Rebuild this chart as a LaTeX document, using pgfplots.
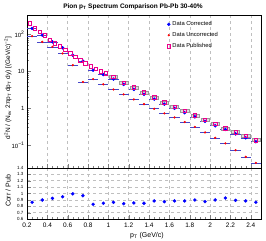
\documentclass[border=0pt]{standalone}
\usepackage{fontspec}
\setmainfont{Liberation Sans}
\usepackage{pgfplots}
\pgfplotsset{compat=1.18}
\pgfplotstableread{
x y
0.225 198
0.275 145
0.325 115
0.375 94
0.425 71
0.475 57
0.525 47
0.575 38
0.625 30.6
0.675 24.6
0.725 19.8
0.775 16.4
0.825 13.6
0.875 11.7
0.925 10.0
0.975 8.7
}\publow
\pgfplotstableread{
x y
1.05 7.0
1.15 4.83
1.25 3.62
1.35 2.65
1.45 1.94
1.55 1.43
1.65 1.08
1.75 0.85
1.85 0.635
1.95 0.474
2.05 0.37
2.15 0.283
2.25 0.224
2.35 0.178
2.45 0.136
}\pubhigh
\pgfplotstableread{
x y
0.25 143
0.35 94
0.45 62
0.55 42.7
0.65 27
0.75 18.6
0.85 10.6
0.95 8.1
1.05 6.1
1.15 4.37
1.25 3.2
1.35 2.35
1.45 1.75
1.55 1.28
1.65 0.98
1.75 0.75
1.85 0.58
1.95 0.437
2.05 0.333
2.15 0.265
2.25 0.20
2.35 0.157
2.45 0.123
}\corr
\pgfplotstableread{
x y
0.25 88
0.35 62
0.45 45.4
0.55 30.1
0.65 14.5
0.75 5.1
0.85 6.1
0.95 4.4
1.05 3.2
1.15 2.35
1.25 1.72
1.35 1.28
1.45 0.96
1.55 0.72
1.65 0.56
1.75 0.42
1.85 0.31
1.95 0.22
2.05 0.157
2.15 0.111
2.25 0.073
2.35 0.048
2.45 0.033
}\uncorr
\pgfplotstableread{
x y
0.25 0.862
0.35 0.898
0.45 0.924
0.55 0.949
0.65 0.995
0.75 0.965
0.85 0.830
0.95 0.847
1.05 0.862
1.15 0.841
1.25 0.852
1.35 0.847
1.45 0.883
1.55 0.872
1.65 0.883
1.75 0.883
1.85 0.898
1.95 0.872
2.05 0.898
2.15 0.929
2.25 0.893
2.35 0.883
2.45 0.862
}\ratio
\definecolor{barblue}{RGB}{70,70,200}
\begin{document}
\begin{tikzpicture}
\useasboundingbox (0pt,0pt) rectangle (266pt,241pt);
\node[font=\fontsize{6.5}{7}\selectfont\bfseries] at (133pt,234.5pt) {Pion p\textsubscript{T} Spectrum Comparison Pb-Pb 30-40\%};
\begin{axis}[
  at={(27pt,73pt)}, anchor=south west, scale only axis,
  width=234pt, height=153pt,
  xmin=0.2, xmax=2.5, ymode=log, ymin=0.024, ymax=330,
  xtick={0.2,0.4,0.6,0.8,1.0,1.2,1.4,1.6,1.8,2.0,2.2,2.4},
  xticklabels={},
  minor x tick num=3,
  ytick={0.1,1,10,100},
  yticklabels={10\textsuperscript{−1},1,10,10\textsuperscript{2}},
  xmajorgrids, major grid style={dashed, gray!50, line width=0.5pt},
  tick align=inside, tick pos=left,
  major tick length=4pt, minor tick length=2pt,
  tick label style={font=\fontsize{6}{7}\selectfont},
  yticklabel style={xshift=1pt},
  axis line style={line width=0.6pt},
  legend style={at={(rel axis cs:0.585,0.985)}, anchor=north west, draw=none, fill=none,
    font=\fontsize{5.8}{7}\selectfont, row sep=1.2pt},
  legend cell align=left,
]
\addplot[only marks, mark=square*, mark size=1.7pt, mark options={xscale=2.4, yscale=0.85, draw=gray!80, fill=gray!25}, forget plot] table {\pubhigh};
\addplot[only marks, mark=*, mark size=1.5pt, color=blue,
  error bars/.cd, x dir=both, x fixed=0.05, error mark=none,
  error bar style={barblue, line width=0.6pt}] table {\corr};
\addlegendentry{Data Corrected}
\addplot[only marks, mark=*, mark size=0.9pt, color=red,
  error bars/.cd, x dir=both, x fixed=0.05, error mark=none,
  error bar style={barblue, line width=0.6pt}] table {\uncorr};
\addlegendentry{Data Uncorrected}
\addplot[only marks, mark=square, mark size=1.7pt, color=magenta, line width=0.6pt] table {\publow};
\addlegendentry{Data Published}
\addplot[only marks, mark=square, mark size=1.7pt, color=magenta, line width=0.6pt, forget plot] table {\pubhigh};
\end{axis}
\node[rotate=90, font=\fontsize{6.5}{7}\selectfont] at (8pt,153pt) {d\textsuperscript{2}N / (N\textsubscript{ev} 2πp\textsubscript{T} dp\textsubscript{T} dy) [(GeV/c)\textsuperscript{−2}]};
\begin{axis}[
  at={(27pt,22pt)}, anchor=south west, scale only axis,
  width=234pt, height=51pt,
  xmin=0.2, xmax=2.5, ymin=0.6, ymax=1.4,
  xtick={0.2,0.4,0.6,0.8,1.0,1.2,1.4,1.6,1.8,2.0,2.2,2.4},
  xticklabels={0.2,0.4,0.6,0.8,1,1.2,1.4,1.6,1.8,2,2.2,2.4},
  minor x tick num=3,
  ytick={0.6,0.7,0.8,0.9,1.0,1.1,1.2,1.3,1.4},
  yticklabels={0.6,0.7,0.8,0.9,1,1.1,1.2,1.3,1.4},
  xmajorgrids, ymajorgrids, major grid style={dashed, gray!50, line width=0.5pt},
  tick align=inside, tick pos=left,
  major tick length=4pt, minor tick length=2pt,
  xticklabel style={font=\fontsize{6.5}{7}\selectfont},
  yticklabel style={font=\fontsize{4.5}{5}\selectfont},
  axis line style={line width=0.6pt},
]
\addplot[only marks, mark=*, mark size=1.5pt, color=blue] table {\ratio};
\end{axis}
\node[rotate=90, font=\fontsize{7}{8}\selectfont] at (8pt,50pt) {Corr / Pub};
\node[font=\fontsize{7}{8}\selectfont] at (147pt,5pt) {p\textsubscript{T} (GeV/c)};
\end{tikzpicture}
\end{document}
